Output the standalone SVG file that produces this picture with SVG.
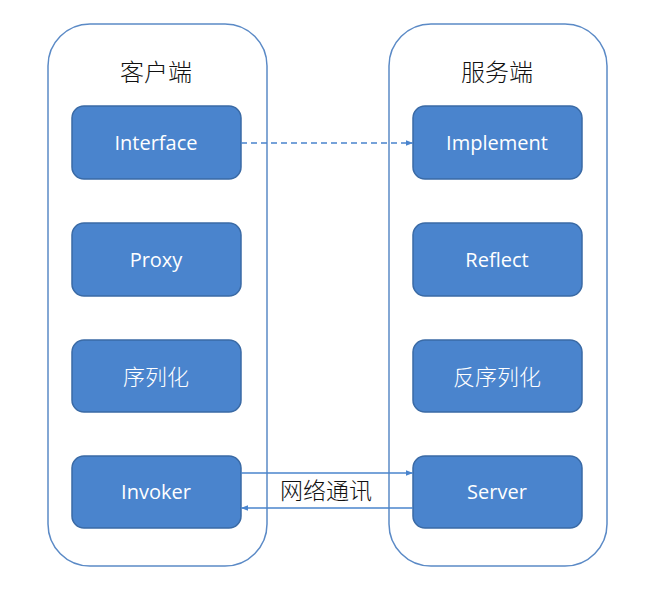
<svg xmlns="http://www.w3.org/2000/svg" width="663" height="608" viewBox="0 0 663 608">
<defs>
<style>
.container{fill:#fff;stroke:#5b8ac6;stroke-width:1.5}
.node rect{fill:#4a84cd;stroke:#3a6aa5;stroke-width:1.5}
.node text{fill:#fff;font-family:"Open Sans","Noto Sans CJK SC",sans-serif;font-size:20px;text-anchor:middle;dominant-baseline:central}
.node text.cjk{font-family:"Noto Sans CJK SC",sans-serif;font-size:22px;font-weight:300}
.title{fill:#111;font-family:"Noto Sans CJK SC",sans-serif;font-size:24px;font-weight:300;text-anchor:middle}
.conn{stroke:#4a84cd;stroke-width:1.5;fill:none}
</style>
<marker id="ah" viewBox="0 0 10 10" refX="10" refY="5" markerWidth="7" markerHeight="7" orient="auto-start-reverse" markerUnits="userSpaceOnUse">
<path d="M0,1 L10,5 L0,9 Z" fill="#4a84cd"/>
</marker>
</defs>
<rect width="663" height="608" fill="#fff"/>
<g id="client">
<rect class="container" x="48" y="24" width="219" height="542" rx="42"/>
<text class="title" x="156" y="81">客户端</text>
</g>
<g id="server-side">
<rect class="container" x="389" y="24" width="218" height="542" rx="42"/>
<text class="title" x="497" y="81">服务端</text>
</g>
<g id="interface" class="node"><rect x="72" y="106" width="169" height="73" rx="12"/><text x="156" y="142">Interface</text></g>
<g id="proxy" class="node"><rect x="72" y="223" width="169" height="73" rx="12"/><text x="156" y="259">Proxy</text></g>
<g id="serialize" class="node"><rect x="72" y="340" width="169" height="72" rx="12"/><text class="cjk" x="156" y="375">序列化</text></g>
<g id="invoker" class="node"><rect x="72" y="456" width="169" height="72" rx="12"/><text x="156" y="491">Invoker</text></g>
<g id="implement" class="node"><rect x="413" y="106" width="169" height="73" rx="12"/><text x="497" y="142">Implement</text></g>
<g id="reflect" class="node"><rect x="413" y="223" width="169" height="73" rx="12"/><text x="497" y="259">Reflect</text></g>
<g id="deserialize" class="node"><rect x="413" y="340" width="169" height="72" rx="12"/><text class="cjk" x="497" y="375">反序列化</text></g>
<g id="server" class="node"><rect x="413" y="456" width="169" height="72" rx="12"/><text x="497" y="491">Server</text></g>
<g id="connectors">
<line class="conn" x1="241" y1="143" x2="413" y2="143" stroke-dasharray="6,4" marker-end="url(#ah)"/>
<line class="conn" x1="241" y1="473" x2="413" y2="473" marker-end="url(#ah)"/>
<line class="conn" x1="413" y1="508" x2="241" y2="508" marker-end="url(#ah)"/>
<text x="326" y="499" font-family="'Noto Sans CJK SC',sans-serif" font-size="23" font-weight="300" fill="#111" text-anchor="middle">网络通讯</text>
</g>
</svg>
